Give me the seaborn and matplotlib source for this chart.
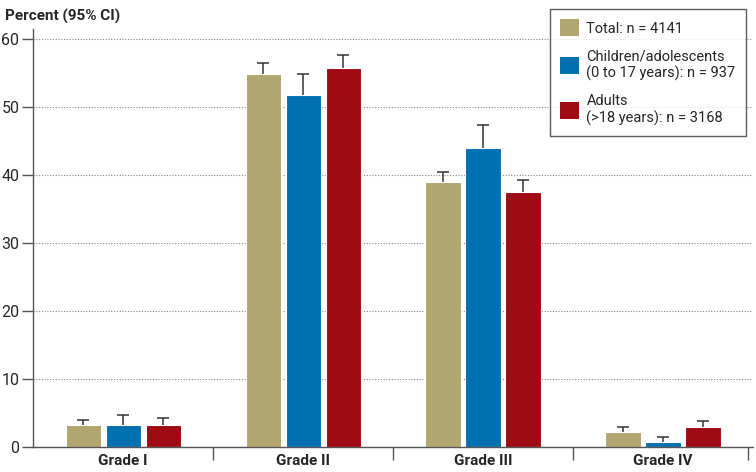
import matplotlib
matplotlib.use("Agg")
import matplotlib.pyplot as plt
import seaborn as sns
import pandas as pd
from matplotlib.patches import Patch

# ─── Data ────────────────────────────────────────────────────────────────────
grades = ["Grade I", "Grade II", "Grade III", "Grade IV"]
groups = ["Total: n = 4141",
          "Children/adolescents\n(0 to 17 years): n = 937",
          "Adults\n(>18 years): n = 3168"]
total = [3.2, 54.8, 39.0, 2.2]
total_hi = [3.9, 56.5, 40.4, 3.0]
children = [3.2, 51.7, 43.9, 0.7]
children_hi = [4.7, 54.9, 47.4, 1.4]
adults = [3.2, 55.8, 37.5, 2.9]
adults_hi = [4.2, 57.7, 39.2, 3.8]
colors = ["#B2A670", "#0070B0", "#A00A14"]

rows = []
for g, vals, his in zip(groups, [total, children, adults], [total_hi, children_hi, adults_hi]):
    for grade, v, h in zip(grades, vals, his):
        rows.append({"grade": grade, "group": g, "pct": v, "hi": h})
df = pd.DataFrame(rows)

# ─── Plot ────────────────────────────────────────────────────────────────────
sns.set_style("white")
plt.rcParams["font.family"] = ["Roboto", "DejaVu Sans"]

fig = plt.figure(figsize=(7.56, 4.72), dpi=100)
ax = fig.add_axes([0.044, 0.053, 0.952, 0.886])

sns.barplot(data=df, x="grade", y="pct", hue="group", order=grades, hue_order=groups,
            palette=colors, saturation=1, errorbar=None, width=0.667, gap=0.12,
            edgecolor="white", linewidth=0.8, legend=False, ax=ax)

# upper-only error bars (stem + cap), positioned from the drawn bars
for i, g in enumerate(groups):
    sub = df[df["group"] == g].set_index("grade").loc[grades]
    bars = ax.containers[i]
    xs = [b.get_x() + b.get_width() / 2 for b in bars]
    ax.vlines(xs, sub["pct"].values, sub["hi"].values, color="#333333", lw=1.1, zorder=0.8)
    ax.plot(xs, sub["hi"].values, ls="none", marker="_", ms=8, mew=1.1, color="#333333",
            zorder=0.8)

ax.set_ylim(0, 61.5)
ax.set_xlim(-0.5, 3.5)
ax.set_yticks(range(0, 61, 10))
ax.yaxis.grid(True, linestyle=(0, (1, 1.5)), color="#888888", linewidth=0.8)
ax.set_axisbelow(True)
for s in ["top", "right"]:
    ax.spines[s].set_visible(False)
for s in ["left", "bottom"]:
    ax.spines[s].set_color("#555555")
    ax.spines[s].set_linewidth(1.0)

ax.tick_params(axis="y", which="major", length=8, width=1, color="#555555",
               labelsize=11.5, left=True, pad=2)
ax.tick_params(axis="x", which="major", length=0, labelsize=11, pad=5)
ax.set_xticks([0.5, 1.5, 2.5, 3.47], minor=True)
ax.tick_params(axis="x", which="minor", length=9, width=1, color="#555555", bottom=True)
for lbl in ax.get_xticklabels():
    lbl.set_fontweight("bold")
ax.set_xlabel("")
ax.set_ylabel("")

fig.text(0.006, 0.98, "Percent (95% CI)", fontsize=11, fontweight="bold", va="top", ha="left")

handles = [Patch(facecolor=c, edgecolor="none") for c in colors]
leg = fig.legend(handles, groups, loc="upper right", bbox_to_anchor=(0.996, 0.996),
                 fontsize=10.5, frameon=True, fancybox=False, edgecolor="#333333",
                 handlelength=1.3, handleheight=1.4, labelspacing=0.9, borderpad=0.7,
                 handletextpad=0.5)
leg.get_frame().set_linewidth(1.0)

plt.savefig("out.png", dpi=100)
